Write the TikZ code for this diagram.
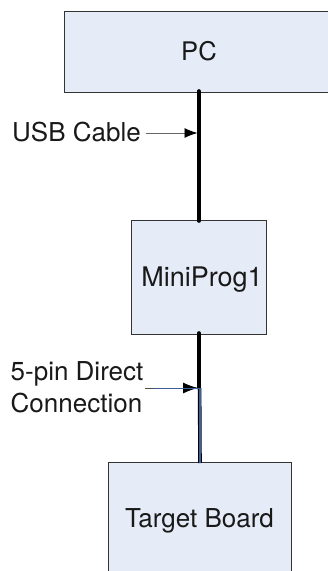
\documentclass[tikz,border=0pt]{standalone}
\usepackage{fontspec}
\setmainfont{TeX Gyre Heros}
\usetikzlibrary{arrows.meta}
\definecolor{boxfill}{HTML}{E5ECF7}
\definecolor{wireblue}{HTML}{3A619E}
\tikzset{
  x=1pt,y=-1pt,
  boxstyle/.style={draw=black!80,line width=0.8pt,fill=boxfill},
  boxlabel/.style={inner sep=0pt,anchor=base,font=\fontsize{26}{30}\selectfont,text=black!90},
  sidelabel/.style={inner sep=0pt,align=left,font=\fontsize{26}{31.7}\selectfont,text=black!90},
  cable/.style={line width=3.6pt,draw=black},
  pointer/.style={line width=0.8pt,draw=black!60,-{Latex[length=13pt,width=10pt,black]}},
}
\begin{document}
\begin{tikzpicture}
\useasboundingbox (0,0) rectangle (328,571);
\clip (0,0) rectangle (328,571);
\fill[white] (0,0) rectangle (328,571);
% boxes
\filldraw[boxstyle] (335,11) -- (64.5,11) -- (64.5,92) -- (335,92);
\filldraw[boxstyle] (131.5,220) rectangle (266,334);
\filldraw[boxstyle] (291,580) -- (291,462) -- (108.5,462) -- (108.5,580);
% box labels
\node[boxlabel,font=\fontsize{25.6}{30}\selectfont] (pc) at (199,60) {PC};
\node[boxlabel,font=\fontsize{27}{30}\selectfont] (mini) at (202,286) {MiniProg1};
\node[boxlabel] (target) at (199.5,527) {Target Board};
% side labels
\node[sidelabel,anchor=base west] (usb) at (12,141) {USB Cable};
\node[sidelabel,anchor=west] (direct) at (10.5,387) {5-pin Direct\\Connection};
% anchors on the cables
\coordinate (pcb) at (199,91);
\coordinate (minit) at (199,221);
\coordinate (minib) at (199,333);
\coordinate (targt) at (200,463);
\coordinate (usbhit) at (197.5,133);
\coordinate (usbfrom) at (145.5,133);
\coordinate (dirhit) at (198,388);
\coordinate (dirfrom) at (145,388);
\coordinate (dirstep) at (199,388);
\coordinate (dirbluefrom) at (154,388);
% cables
\draw[cable,line cap=round] (pcb) -- (minit);
\draw[cable,line cap=round] (minib) -- (dirstep);
\draw[line width=3.6pt,draw=black] (199.6,388) -- (targt);
\draw[line width=1.2pt,draw=wireblue] (200,388) -- (targt);
% pointers
\draw[pointer] (usbfrom) -- (usbhit);
\draw[line width=0.8pt,draw=black!70] (dirfrom) -- (dirbluefrom);
\draw[line width=0.9pt,draw=wireblue,-{Latex[length=15pt,width=11pt,black]}] (dirbluefrom) -- (dirhit);
\draw[line width=0.9pt,draw=wireblue] (dirbluefrom) -- (199.5,388);
\end{tikzpicture}
\end{document}
